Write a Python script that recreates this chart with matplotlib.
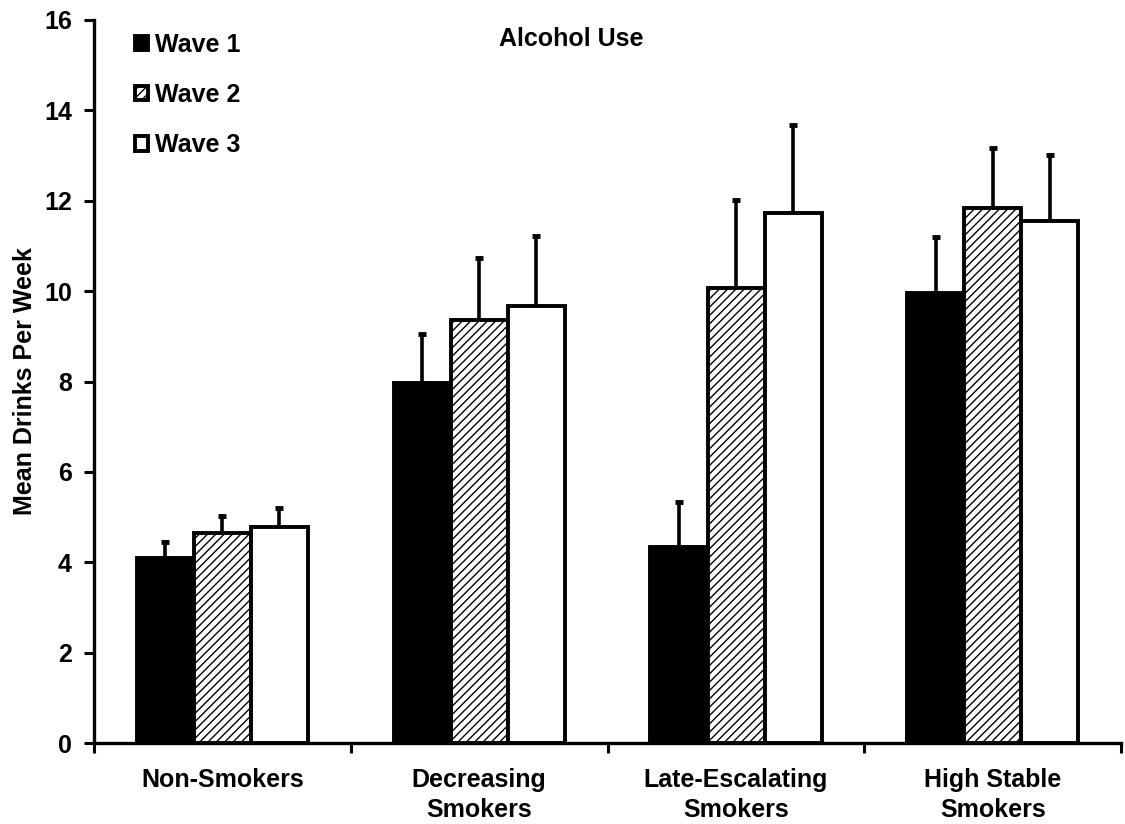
import numpy as np
import matplotlib.pyplot as plt

plt.rcParams['font.family'] = ['Liberation Sans', 'DejaVu Sans']
plt.rcParams['font.weight'] = 'bold'
plt.rcParams['hatch.linewidth'] = 1.0

# === Data ===
categories = ['Non-Smokers', 'Decreasing\nSmokers', 'Late-Escalating\nSmokers', 'High Stable\nSmokers']
waves = ['Wave 1', 'Wave 2', 'Wave 3']
wave1 = [4.09, 7.97, 4.34, 9.96]
wave2 = [4.65, 9.36, 10.07, 11.84]
wave3 = [4.78, 9.67, 11.73, 11.55]
err1 = [0.36, 1.08, 1.00, 1.24]
err2 = [0.37, 1.37, 1.95, 1.33]
err3 = [0.42, 1.55, 1.95, 1.46]

FS = 18

fig = plt.figure(figsize=(11.25, 8.24), dpi=100)
ax = fig.add_axes([0.0836, 0.098, 0.913, 0.878])

x = np.arange(len(categories))
width = 0.222
styles = [
    dict(facecolor='black', hatch=None),
    dict(facecolor='white', hatch='////'),
    dict(facecolor='white', hatch=None),
]
for i, (vals, errs, st) in enumerate(zip([wave1, wave2, wave3], [err1, err2, err3], styles)):
    pos = x + (i - 1) * width
    ax.bar(pos, vals, width, color=st['facecolor'], edgecolor='black', linewidth=2.8,
           hatch=st['hatch'], label=waves[i], zorder=2)
    ax.errorbar(pos, vals, yerr=[np.zeros(len(errs)), errs], fmt='none', ecolor='black',
                elinewidth=2.6, capsize=3, capthick=3.5, zorder=1)

ax.set_xlim(-0.5, len(categories) - 0.5)
ax.set_ylim(0, 16)
ax.set_yticks(range(0, 17, 2))
ax.set_xticks(x)
ax.set_xticklabels(categories, fontsize=FS, fontweight='bold', linespacing=1.3)
ax.set_xticks(np.arange(-0.5, len(categories)), minor=True)
ax.tick_params(axis='x', which='major', length=0, pad=18)
ax.tick_params(axis='x', which='minor', length=7, width=2.2, direction='out')
ax.tick_params(axis='y', length=7, width=2.2, direction='out', labelsize=FS, pad=9)
for lab in ax.get_yticklabels():
    lab.set_fontweight('bold')

for s in ['top', 'right']:
    ax.spines[s].set_visible(False)
for s in ['left', 'bottom']:
    ax.spines[s].set_linewidth(2.4)

ax.set_ylabel('Mean Drinks Per Week', fontsize=FS, fontweight='bold', labelpad=5)
ax.text(0.465, 0.973, 'Alcohol Use', transform=ax.transAxes, ha='center', va='center',
        fontsize=FS, fontweight='bold')

leg = ax.legend(loc='upper left', bbox_to_anchor=(0.018, 1.013), frameon=False,
                handlelength=0.5, handleheight=0.5, handletextpad=0.3, labelspacing=1.05,
                prop={'weight': 'bold', 'size': FS})

fig.savefig('out.png', dpi=100)
